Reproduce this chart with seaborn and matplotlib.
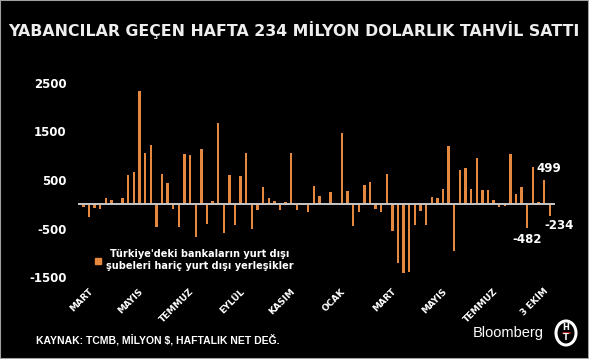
import matplotlib
matplotlib.use("Agg")
import matplotlib.pyplot as plt
import seaborn as sns
import pandas as pd
from matplotlib.lines import Line2D
from matplotlib.patches import Rectangle, Ellipse

# ---- data (weekly net flows, million $) ----
values = [-50, -260, -70, -90, 137, 90, 30, 120, 600, 670,
          2320, 1055, 1215, -465, 630, 430, -90, -470, 1035, 1005,
          -670, 1140, -400, 75, 1670, -590, 610, -415, 575, 1045,
          -500, -110, 350, 130, 65, -125, 50, 1045, -110, -15,
          -160, 372, 170, 5, 248, 25, 1467, 273, -450, -155,
          393, 460, -100, -165, 622, -555, -1208, -1402, -1385, -424,
          -143, -430, 150, 140, 315, 1200, -950, 700, 742, 325,
          945, 298, 287, 96, -45, -35, 1043, 212, 359, -482,
          760, 58, 499, -234]
tick_labels = ["MART", "MAYIS", "TEMMUZ", "EYLÜL", "KASIM", "OCAK",
               "MART", "MAYIS", "TEMMUZ", "3 EKİM"]
yticks = [2500, 1500, 500, -500, -1500]
labelled = {79: "-482", 82: "499", 83: "-234"}
title = "YABANCILAR GEÇEN HAFTA 234 MİLYON DOLARLIK TAHVİL SATTI"
legend_label = "Türkiye'deki bankaların yurt dışı\nşubeleri hariç yurt dışı yerleşikler"
source = "KAYNAK: TCMB, MİLYON $, HAFTALIK NET DEĞ."

df = pd.DataFrame({"week": list(range(len(values))), "flow": values})

sns.set_theme(style="dark")
plt.rcParams["font.family"] = ["DejaVu Sans"]

BG = "black"
ORANGE = "#E4893F"
W, H = 589, 359
fig = plt.figure(figsize=(W / 100, H / 100), dpi=100, facecolor=BG)

ymin, ymax = -1650, 2700
ppu = 48.65 / 1000.0
ax_top_px = 82.7 - (ymax - 2500) * ppu
ax_h_px = (ymax - ymin) * ppu
ax_left_px = 77.7
ax_w_px = 85 * 5.62
ax = fig.add_axes([ax_left_px / W, 1 - (ax_top_px + ax_h_px) / H, ax_w_px / W, ax_h_px / H])
ax.set_facecolor(BG)

sns.barplot(data=df, x="week", y="flow", color=ORANGE, saturation=1,
            width=0.42, ax=ax, zorder=2, edgecolor="none", linewidth=0)
ax.axhline(0, color="#C8C8C8", lw=1.4, zorder=3)

ax.set_xlim(-1, len(values))
ax.set_ylim(ymin, ymax)
for s in ax.spines.values():
    s.set_visible(False)
ax.grid(False)
ax.set_xlabel("")
ax.set_ylabel("")

ax.set_yticks(yticks)
ax.set_yticklabels([str(v) for v in yticks], color="white", fontweight="bold", fontsize=8.5)
ax.tick_params(axis="y", length=0, pad=8)

n = len(values)
tick_idx = sorted(range(n - 1, -1, -9))[-len(tick_labels):]
ax.set_xticks(tick_idx)
ax.set_xticklabels(tick_labels, rotation=45, ha="right", color="white",
                   fontweight="bold", fontsize=6.5)
ax.tick_params(axis="x", length=0, pad=1.5)

offsets = {79: (0, -12), 82: (5, 12), 83: (9, -10)}
for i, txt in labelled.items():
    v = values[i]
    dx, dy = offsets[i]
    ax.annotate(txt, xy=(i, v), xytext=(dx, dy), textcoords="offset pixels",
                ha="center", va="center", color="white", fontweight="bold",
                fontsize=8.5)

handle = Line2D([], [], marker="s", color=ORANGE, linestyle="none", markersize=4.5)
leg = ax.legend([handle], [legend_label], loc="center", bbox_to_anchor=(194 / W, 1 - 260 / H),
                bbox_transform=fig.transFigure, frameon=False, handlelength=0.6,
                handletextpad=0.5, borderpad=0, fontsize=7)
for t in leg.get_texts():
    t.set_color("white")
    t.set_fontweight("bold")
    t.set_multialignment("center")
    t.set_linespacing(1.15)

fig.text(294 / W, 1 - 30 / H, title, ha="center", va="center", color="#EEEEEE",
         fontweight="bold", fontsize=11.3)
fig.text(36 / W, 1 - 340 / H, source, ha="left", va="center", color="white",
         fontweight="bold", fontsize=7.5, family=["Liberation Sans", "DejaVu Sans"])
fig.text(473 / W, 1 - 333 / H, "Bloomberg", ha="left", va="center", color="white",
         fontsize=10.5, family=["Liberation Sans", "DejaVu Sans"])

# logo
cx, cy = 566 / W, 1 - 333 / H
fig.patches.append(Ellipse((cx, cy), 20 / W, 24 / H, transform=fig.transFigure,
                           facecolor="black", edgecolor="white", lw=2.2))
fig.text(cx, cy + 5 / H, "H", ha="center", va="center", color="white", fontsize=6,
         fontweight="bold")
fig.text(cx, cy - 5 / H, "T", ha="center", va="center", color="white", fontsize=6,
         fontweight="bold")
fig.lines.append(Line2D([cx - 3.5 / W, cx + 3.5 / W], [cy, cy], transform=fig.transFigure,
                        color="#D02020", lw=1.2))

# frame
fig.patches.append(Rectangle((0, 0), 1, 1, transform=fig.transFigure, fill=False,
                             edgecolor="#A0A0A0", lw=1.5))

fig.savefig("out.png", dpi=100, facecolor=BG)
